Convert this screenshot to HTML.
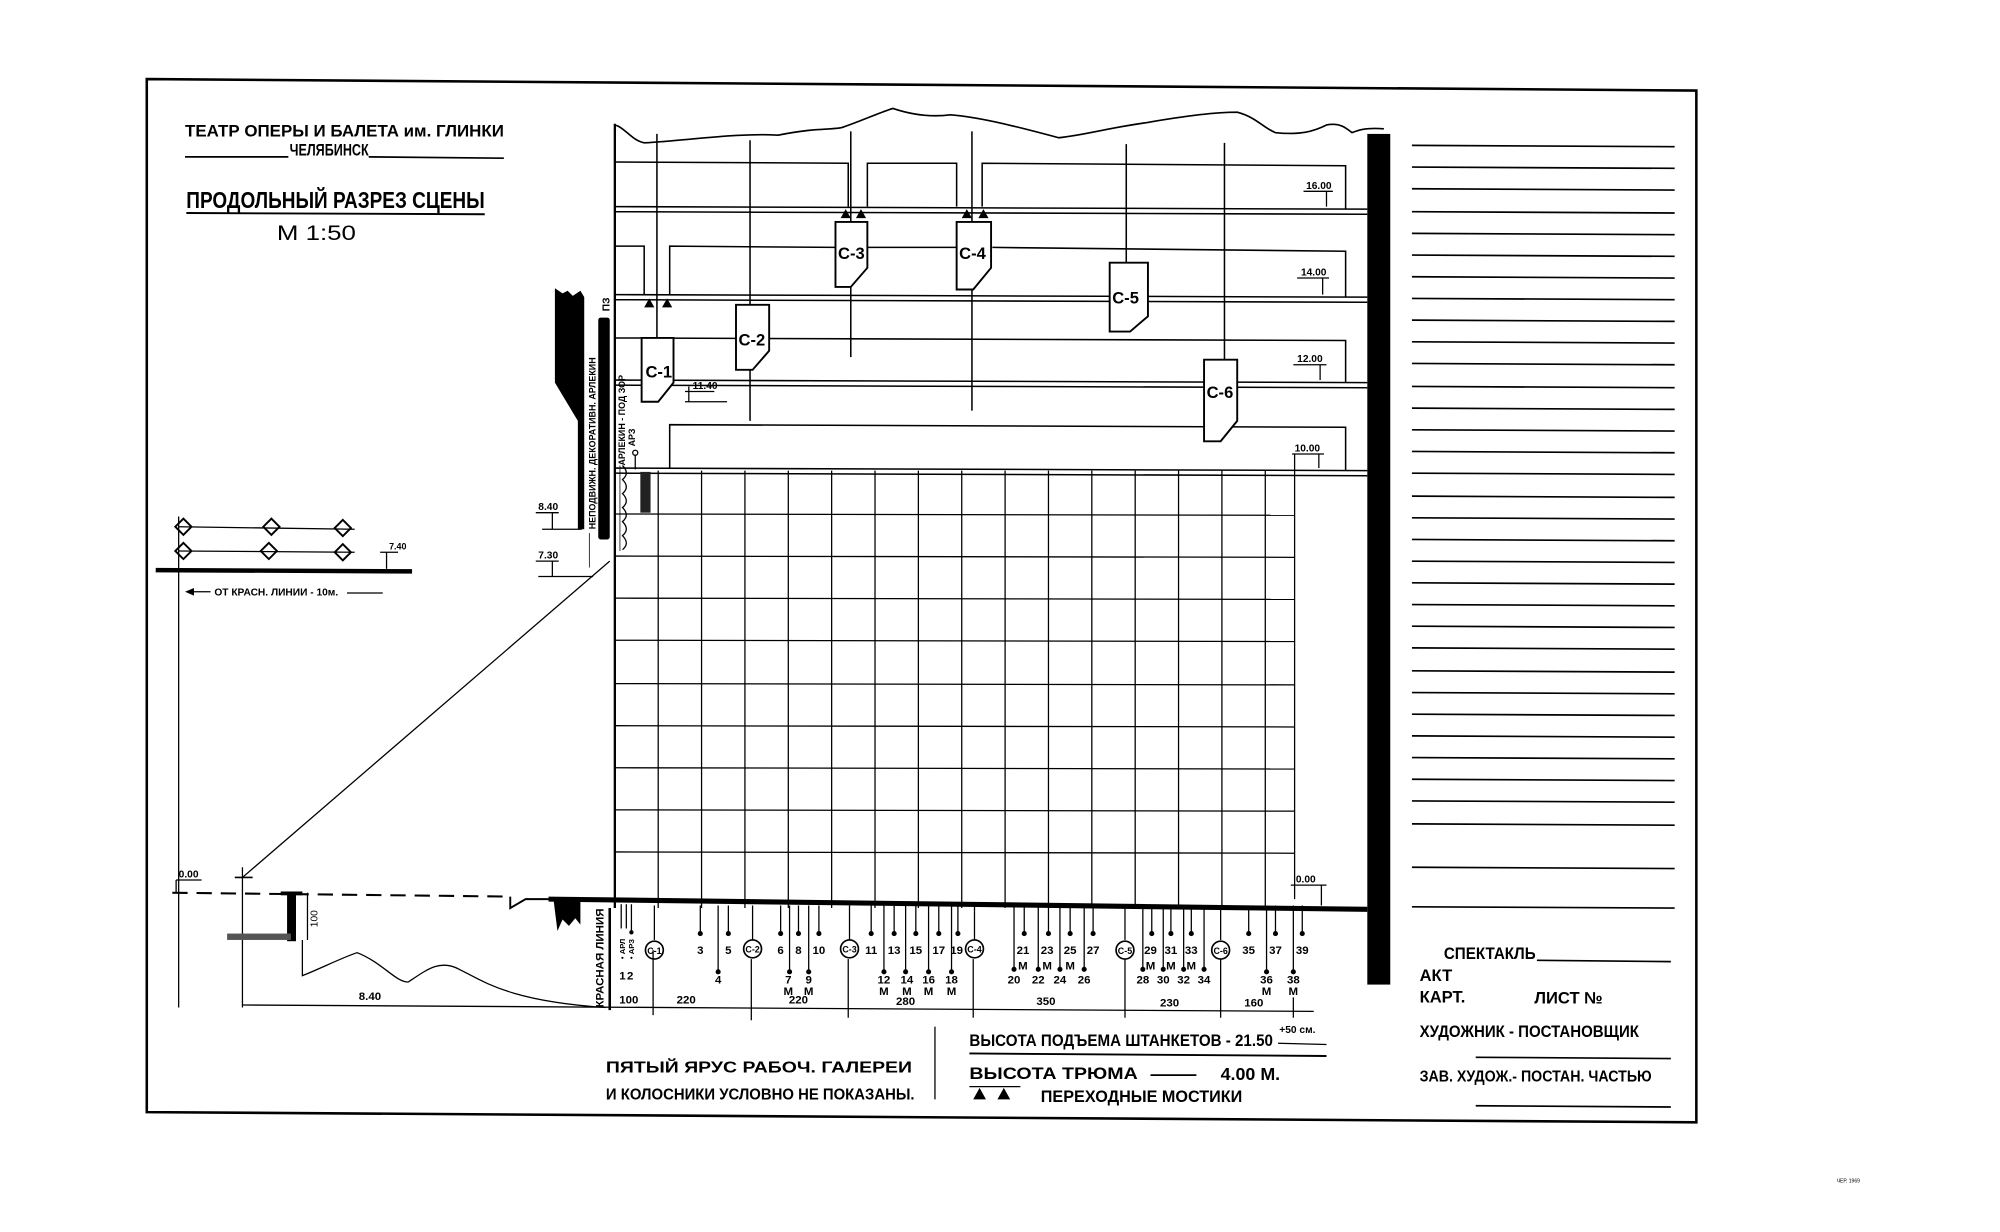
<!DOCTYPE html>
<html><head><meta charset="utf-8"><style>
html,body{margin:0;padding:0;background:#fff;}
svg{display:block;}
text{font-family:"Liberation Sans Narrow","Liberation Sans","DejaVu Sans",sans-serif;font-weight:bold;fill:#000;}
</style></head><body>
<svg width="2000" height="1232" viewBox="0 0 1568 966" xmlns="http://www.w3.org/2000/svg">
<rect width="1568" height="966" fill="#fff"/>
<polygon points="115,62 1330,71 1330,880 115,872" fill="none" stroke="#000" stroke-width="2"/>

<text x="145" y="107" font-size="13" textLength="250" lengthAdjust="spacingAndGlyphs">ТЕАТР ОПЕРЫ И БАЛЕТА им. ГЛИНКИ</text>
<line x1="145" y1="123" x2="226" y2="123" stroke="#000" stroke-width="1.3"/>
<text x="227" y="122" font-size="13" textLength="62" lengthAdjust="spacingAndGlyphs">ЧЕЛЯБИНСК</text>
<line x1="289" y1="123" x2="395" y2="124" stroke="#000" stroke-width="1.3"/>
<text x="146" y="163" font-size="18" textLength="234" lengthAdjust="spacingAndGlyphs">ПРОДОЛЬНЫЙ РАЗРЕЗ СЦЕНЫ</text>
<line x1="146" y1="167" x2="380" y2="168" stroke="#000" stroke-width="1.5"/>
<text x="217" y="188" font-size="17" textLength="62" lengthAdjust="spacingAndGlyphs" style="font-weight:normal">М 1:50</text>

<path d="M482,98 C490,100 495,110 505,112 C540,110 580,104 610,106 C640,100 650,102 660,100 C675,95 690,88 700,85 C715,90 730,92 745,90 C770,92 800,100 830,108 C850,106 870,100 900,96 C940,89 960,88 970,88 C985,92 990,100 1000,104 C1020,106 1030,103 1040,98 C1050,96 1055,100 1060,104 C1065,102 1070,100 1085,101" fill="none" stroke="#000" stroke-width="1.3"/>
<line x1="482" y1="97" x2="482" y2="712" stroke="#000" stroke-width="1.8"/>
<rect x="1072" y="105" width="18" height="667" fill="#000"/>

<g stroke="#000" stroke-width="1.2" fill="none">
<line x1="482" y1="162" x2="1072" y2="164"/><line x1="482" y1="166" x2="1072" y2="168"/>
<line x1="482" y1="231" x2="1072" y2="233"/><line x1="482" y1="235" x2="1072" y2="237"/>
<line x1="482" y1="298" x2="1072" y2="300"/><line x1="482" y1="302" x2="1072" y2="304"/>
<line x1="482" y1="367" x2="1072" y2="369"/><line x1="482" y1="371" x2="1072" y2="373"/>
<polyline points="482,127 665,128 665,162"/>
<polyline points="680,162 680,128 750,128 750,162"/>
<polyline points="770,162 770,128 1055,130 1055,164"/>
<polyline points="482,193 505,193 505,231"/>
<polyline points="525,231 525,193 655,194"/>
<line x1="680" y1="194" x2="750" y2="194"/>
<polyline points="778,194 1055,197 1055,233"/>
<polyline points="482,265 1055,267 1055,300"/>
<polyline points="525,367 525,333 1055,335 1055,369"/>
<line x1="515" y1="105" x2="515" y2="265"/>
<line x1="588" y1="110" x2="588" y2="239"/><line x1="588" y1="289" x2="588" y2="330"/>
<line x1="667" y1="103" x2="667" y2="174"/><line x1="667" y1="224" x2="667" y2="280"/>
<line x1="762" y1="103" x2="762" y2="174"/><line x1="762" y1="226" x2="762" y2="322"/>
<line x1="883" y1="113" x2="883" y2="206"/>
<line x1="960" y1="112" x2="960" y2="282"/>
</g>
<g stroke="#000" stroke-width="1.5" fill="#fff">
<polygon points="503,265 528,265 528,300 516,315 503,315"/>
<polygon points="577,239 603,239 603,275 590,290 577,290"/>
<polygon points="655,174 680,174 680,210 667,225 655,225"/>
<polygon points="750,174 777,174 777,210 763,227 750,227"/>
<polygon points="870,206 900,206 900,248 886,260 870,260"/>
<polygon points="944,282 970,282 970,330 957,346 944,346"/>
</g>
<g font-size="13">
<text x="506" y="296">С-1</text><text x="579" y="271">С-2</text>
<text x="657" y="203">С-3</text><text x="752" y="203">С-4</text>
<text x="872" y="238">С-5</text><text x="946" y="312">С-6</text>
</g>
<g fill="#000">
<polygon points="659,171 663,164 667,171"/><polygon points="671,171 675,164 679,171"/>
<polygon points="754,171 758,164 762,171"/><polygon points="767,171 771,164 775,171"/>
<polygon points="505,241 509,234 513,241"/><polygon points="519,241 523,234 527,241"/>
</g>
<g font-size="8">
<text x="1024" y="148">16.00</text><text x="1020" y="216">14.00</text>
<text x="1017" y="284">12.00</text><text x="1015" y="354">10.00</text>
<text x="543" y="305">11.40</text>
</g>
<g stroke="#000" stroke-width="1" fill="none">
<line x1="1022" y1="150" x2="1045" y2="150"/><line x1="1040" y1="150" x2="1040" y2="162"/>
<line x1="1017" y1="218" x2="1042" y2="218"/><line x1="1037" y1="218" x2="1037" y2="231"/>
<line x1="1014" y1="286" x2="1040" y2="286"/><line x1="1035" y1="286" x2="1035" y2="298"/>
<line x1="1013" y1="356" x2="1038" y2="356"/><line x1="1034" y1="356" x2="1034" y2="367"/>
<line x1="1015" y1="356" x2="1015" y2="705"/>
<line x1="537" y1="315" x2="570" y2="315"/><line x1="540" y1="303" x2="540" y2="315"/><line x1="537" y1="307" x2="560" y2="307"/>
</g>

<g stroke="#000" stroke-width="1" fill="none">
<line x1="482" y1="403" x2="1015" y2="404"/>
<line x1="482" y1="436" x2="1015" y2="437"/>
<line x1="482" y1="469" x2="1015" y2="470"/>
<line x1="482" y1="502" x2="1015" y2="503"/>
<line x1="482" y1="536" x2="1015" y2="537"/>
<line x1="482" y1="569" x2="1015" y2="570"/>
<line x1="482" y1="602" x2="1015" y2="603"/>
<line x1="482" y1="635" x2="1015" y2="636"/>
<line x1="482" y1="668" x2="1015" y2="669"/>
<line x1="516" y1="369" x2="516" y2="712"/><line x1="550" y1="369" x2="550" y2="712"/>
<line x1="584" y1="369" x2="584" y2="712"/><line x1="618" y1="369" x2="618" y2="712"/>
<line x1="652" y1="369" x2="652" y2="712"/><line x1="686" y1="369" x2="686" y2="712"/>
<line x1="720" y1="369" x2="720" y2="712"/><line x1="754" y1="369" x2="754" y2="712"/>
<line x1="788" y1="369" x2="788" y2="712"/><line x1="822" y1="369" x2="822" y2="712"/>
<line x1="856" y1="369" x2="856" y2="712"/><line x1="890" y1="369" x2="890" y2="712"/>
<line x1="924" y1="369" x2="924" y2="712"/><line x1="958" y1="369" x2="958" y2="712"/>
<line x1="992" y1="369" x2="992" y2="712"/>
</g>
<line x1="430" y1="705" x2="1072" y2="713" stroke="#000" stroke-width="4"/>
<polyline points="400,703 400,712 412,705 430,705" fill="none" stroke="#000" stroke-width="1.5"/>
<polygon points="434,706 455,707 455,725 451,720 446,726 441,721 437,730" fill="#000"/>
<text x="1016" y="692" font-size="8">0.00</text>
<line x1="1012" y1="694" x2="1040" y2="694" stroke="#000"/><line x1="1036" y1="694" x2="1036" y2="710" stroke="#000"/>

<g stroke="#000" stroke-width="1" fill="#000">
<line x1="487" y1="709" x2="487" y2="728"/><line x1="491" y1="709" x2="491" y2="728"/><line x1="495" y1="709" x2="495" y2="730"/><circle cx="495" cy="731" r="1.2"/>
<line x1="549" y1="710" x2="549" y2="732"/><circle cx="549" cy="732" r="1.5"/>
<line x1="563" y1="710" x2="563" y2="762"/><circle cx="563" cy="762" r="1.5"/>
<line x1="571" y1="710" x2="571" y2="732"/><circle cx="571" cy="732" r="1.5"/>
<line x1="612" y1="710" x2="612" y2="732"/><circle cx="612" cy="732" r="1.5"/>
<line x1="619" y1="710" x2="619" y2="762"/><circle cx="619" cy="762" r="1.5"/>
<line x1="626" y1="710" x2="626" y2="732"/><circle cx="626" cy="732" r="1.5"/>
<line x1="634" y1="710" x2="634" y2="762"/><circle cx="634" cy="762" r="1.5"/>
<line x1="642" y1="710" x2="642" y2="732"/><circle cx="642" cy="732" r="1.5"/>
<line x1="683" y1="710" x2="683" y2="732"/><circle cx="683" cy="732" r="1.5"/>
<line x1="693" y1="710" x2="693" y2="762"/><circle cx="693" cy="762" r="1.5"/>
<line x1="701" y1="710" x2="701" y2="732"/><circle cx="701" cy="732" r="1.5"/>
<line x1="710" y1="710" x2="710" y2="762"/><circle cx="710" cy="762" r="1.5"/>
<line x1="718" y1="710" x2="718" y2="732"/><circle cx="718" cy="732" r="1.5"/>
<line x1="728" y1="710" x2="728" y2="762"/><circle cx="728" cy="762" r="1.5"/>
<line x1="736" y1="710" x2="736" y2="732"/><circle cx="736" cy="732" r="1.5"/>
<line x1="746" y1="710" x2="746" y2="762"/><circle cx="746" cy="762" r="1.5"/>
<line x1="751" y1="710" x2="751" y2="732"/><circle cx="751" cy="732" r="1.5"/>
<line x1="795" y1="710" x2="795" y2="760"/><circle cx="795" cy="760" r="1.5"/>
<line x1="803" y1="710" x2="803" y2="732"/><circle cx="803" cy="732" r="1.5"/>
<line x1="814" y1="710" x2="814" y2="760"/><circle cx="814" cy="760" r="1.5"/>
<line x1="822" y1="710" x2="822" y2="732"/><circle cx="822" cy="732" r="1.5"/>
<line x1="831" y1="710" x2="831" y2="760"/><circle cx="831" cy="760" r="1.5"/>
<line x1="839" y1="710" x2="839" y2="732"/><circle cx="839" cy="732" r="1.5"/>
<line x1="850" y1="710" x2="850" y2="760"/><circle cx="850" cy="760" r="1.5"/>
<line x1="857" y1="710" x2="857" y2="732"/><circle cx="857" cy="732" r="1.5"/>
<line x1="896" y1="710" x2="896" y2="760"/><circle cx="896" cy="760" r="1.5"/>
<line x1="903" y1="710" x2="903" y2="732"/><circle cx="903" cy="732" r="1.5"/>
<line x1="912" y1="710" x2="912" y2="760"/><circle cx="912" cy="760" r="1.5"/>
<line x1="918" y1="710" x2="918" y2="732"/><circle cx="918" cy="732" r="1.5"/>
<line x1="928" y1="710" x2="928" y2="760"/><circle cx="928" cy="760" r="1.5"/>
<line x1="934" y1="710" x2="934" y2="732"/><circle cx="934" cy="732" r="1.5"/>
<line x1="944" y1="710" x2="944" y2="760"/><circle cx="944" cy="760" r="1.5"/>
<line x1="979" y1="710" x2="979" y2="732"/><circle cx="979" cy="732" r="1.5"/>
<line x1="993" y1="710" x2="993" y2="762"/><circle cx="993" cy="762" r="1.5"/>
<line x1="1000" y1="710" x2="1000" y2="732"/><circle cx="1000" cy="732" r="1.5"/>
<line x1="1014" y1="710" x2="1014" y2="762"/><circle cx="1014" cy="762" r="1.5"/>
<line x1="1021" y1="710" x2="1021" y2="732"/><circle cx="1021" cy="732" r="1.5"/>
<line x1="513" y1="710" x2="513" y2="737"/><line x1="590" y1="710" x2="590" y2="737"/>
<line x1="666" y1="710" x2="666" y2="737"/><line x1="764" y1="710" x2="764" y2="737"/>
<line x1="882" y1="710" x2="882" y2="737"/><line x1="957" y1="710" x2="957" y2="737"/>
</g>
<g stroke="#000" stroke-width="1.3" fill="#fff">
<circle cx="513" cy="745" r="7"/><circle cx="590" cy="744" r="7"/><circle cx="666" cy="744" r="7"/>
<circle cx="764" cy="744" r="7"/><circle cx="882" cy="745" r="7"/><circle cx="957" cy="745" r="7"/>
</g>
<g font-size="7" text-anchor="middle">
<text x="513" y="748">С-1</text><text x="590" y="747">С-2</text><text x="666" y="747">С-3</text>
<text x="764" y="747">С-4</text><text x="882" y="748">С-5</text><text x="957" y="748">С-6</text>
</g>
<g font-size="9" text-anchor="middle" style="font-weight:normal">
<text x="549" y="748">3</text><text x="571" y="748">5</text><text x="612" y="748">6</text><text x="626" y="748">8</text><text x="642" y="748">10</text>
<text x="683" y="748">11</text><text x="701" y="748">13</text><text x="718" y="748">15</text><text x="736" y="748">17</text><text x="750" y="748">19</text>
<text x="802" y="748">21</text><text x="821" y="748">23</text><text x="839" y="748">25</text><text x="857" y="748">27</text>
<text x="902" y="748">29</text><text x="918" y="748">31</text><text x="934" y="748">33</text>
<text x="979" y="748">35</text><text x="1000" y="748">37</text><text x="1021" y="748">39</text>
<text x="563" y="771">4</text><text x="618" y="771">7</text><text x="634" y="771">9</text>
<text x="693" y="771">12</text><text x="711" y="771">14</text><text x="728" y="771">16</text><text x="746" y="771">18</text>
<text x="795" y="771">20</text><text x="814" y="771">22</text><text x="831" y="771">24</text><text x="850" y="771">26</text>
<text x="896" y="771">28</text><text x="912" y="771">30</text><text x="928" y="771">32</text><text x="944" y="771">34</text>
<text x="993" y="771">36</text><text x="1014" y="771">38</text>
<text x="618" y="780">М</text><text x="634" y="780">М</text>
<text x="693" y="780">М</text><text x="711" y="780">М</text><text x="728" y="780">М</text><text x="746" y="780">М</text>
<text x="993" y="780">М</text><text x="1014" y="780">М</text>
<text x="802" y="760">М</text><text x="821" y="760">М</text><text x="839" y="760">М</text>
<text x="902" y="760">М</text><text x="918" y="760">М</text><text x="934" y="760">М</text>
<text x="488" y="768">1</text><text x="494" y="768">2</text>
</g>
<g font-size="6"><text transform="translate(490,752) rotate(-90)">• АРЛ</text><text transform="translate(497,752) rotate(-90)">• АРЗ</text></g>
<text transform="translate(473,790) rotate(-90)" font-size="9">КРАСНАЯ ЛИНИЯ</text>
<line x1="478" y1="712" x2="478" y2="792" stroke="#000" stroke-width="2"/>
<g stroke="#000" stroke-width="1" fill="none">
<line x1="190" y1="788" x2="1030" y2="793"/>
<line x1="512" y1="745" x2="512" y2="796"/><line x1="589" y1="752" x2="589" y2="800"/>
<line x1="665" y1="752" x2="665" y2="798"/><line x1="763" y1="752" x2="763" y2="798"/>
<line x1="882" y1="752" x2="882" y2="798"/><line x1="957" y1="752" x2="957" y2="798"/>
<line x1="1014" y1="782" x2="1014" y2="798"/>
</g>
<g font-size="9" text-anchor="middle" style="font-weight:normal">
<text x="493" y="787">100</text><text x="538" y="787">220</text><text x="626" y="787">220</text>
<text x="710" y="788">280</text><text x="820" y="788">350</text><text x="917" y="789">230</text><text x="983" y="789">160</text>
<text x="290" y="784">8.40</text>
</g>

<line x1="135" y1="700" x2="400" y2="703" stroke="#000" stroke-width="1.6" stroke-dasharray="12,7"/>
<text x="140" y="688" font-size="8">0.00</text>
<line x1="138" y1="690" x2="158" y2="690" stroke="#000"/><line x1="138" y1="690" x2="138" y2="700" stroke="#000"/>
<line x1="190" y1="680" x2="190" y2="790" stroke="#000"/><line x1="184" y1="688" x2="198" y2="688" stroke="#000" stroke-width="1.3"/>
<line x1="190" y1="688" x2="478" y2="440" stroke="#000" stroke-width="1"/>
<rect x="225" y="700" width="7" height="38" fill="#000"/><rect x="220" y="699" width="17" height="3" fill="#000"/>
<line x1="241" y1="700" x2="241" y2="737" stroke="#000"/>
<text transform="translate(249,727) rotate(-90)" font-size="8" style="font-weight:normal">100</text>
<rect x="178" y="732" width="50" height="5" fill="#555"/>
<path d="M237,737 L237,765 C250,760 270,750 280,747 C300,755 310,770 320,770 C335,760 345,752 360,760 C380,770 400,785 475,790" fill="none" stroke="#000"/>

<!-- proscenium -->
<polygon points="435,226 441,230 445,228 449,232 455,228 458,233 458,415 453,415 453,330 435,300" fill="#000"/>
<rect x="469" y="249" width="9" height="174" fill="#000" rx="2"/>
<text transform="translate(467,415) rotate(-90)" font-size="7">НЕПОДВИЖН. ДЕКОРАТИВН. АРЛЕКИН</text>
<text transform="translate(478,244) rotate(-90)" font-size="8">ПЗ</text>
<text transform="translate(490,365) rotate(-90)" font-size="7">АРЛЕКИН - ПОД ЗОР</text>
<text transform="translate(498,350) rotate(-90)" font-size="7">АРЗ</text>
<circle cx="498" cy="355" r="2" fill="none" stroke="#000"/>
<line x1="498" y1="357" x2="498" y2="368" stroke="#000"/>
<rect x="502" y="370" width="8" height="32" fill="#222"/>
<path d="M488,365 q6,6 0,11 q6,6 0,11 q6,6 0,11 q6,6 0,11 q6,6 0,11 q6,6 0,11" fill="none" stroke="#000"/>
<line x1="486" y1="365" x2="486" y2="432" stroke="#000" stroke-width="0.6"/>
<line x1="462" y1="418" x2="462" y2="445" stroke="#000" stroke-width="0.6"/>
<g font-size="8"><text x="422" y="400">8.40</text><text x="422" y="438">7.30</text></g>
<g stroke="#000" stroke-width="1"><line x1="420" y1="402" x2="438" y2="402"/><line x1="433" y1="402" x2="433" y2="415"/><line x1="425" y1="415" x2="456" y2="415"/>
<line x1="420" y1="440" x2="438" y2="440"/><line x1="433" y1="440" x2="433" y2="452"/><line x1="422" y1="452" x2="465" y2="452"/></g>

<g stroke="#000" stroke-width="1" fill="none">
<line x1="140" y1="413" x2="278" y2="415"/><line x1="140" y1="432" x2="278" y2="433"/>
<line x1="140" y1="405" x2="140" y2="790"/>
<g stroke-width="1.5">
<rect x="139" y="408" width="9" height="9" transform="rotate(45 143 413)"/>
<rect x="208" y="408" width="9" height="9" transform="rotate(45 212 413)"/>
<rect x="264" y="409" width="9" height="9" transform="rotate(45 268 414)"/>
<rect x="139" y="427" width="9" height="9" transform="rotate(45 143 432)"/>
<rect x="206" y="427" width="9" height="9" transform="rotate(45 210 432)"/>
<rect x="264" y="428" width="9" height="9" transform="rotate(45 268 433)"/>
</g>
<line x1="298" y1="433" x2="312" y2="433"/><line x1="303" y1="433" x2="303" y2="446"/>
<line x1="148" y1="464" x2="165" y2="464"/><line x1="272" y1="465" x2="300" y2="465"/>
</g>
<polygon points="145,464 152,461 152,467" fill="#000"/>
<line x1="122" y1="447" x2="323" y2="448" stroke="#000" stroke-width="3.5"/>
<text x="305" y="431" font-size="7">7.40</text>
<text x="168" y="467" font-size="8">ОТ КРАСН. ЛИНИИ - 10м.</text>

<text x="475" y="841" font-size="12" textLength="240" lengthAdjust="spacingAndGlyphs">ПЯТЫЙ ЯРУС РАБОЧ. ГАЛЕРЕИ</text>
<text x="475" y="862" font-size="12" textLength="242" lengthAdjust="spacingAndGlyphs">И КОЛОСНИКИ УСЛОВНО НЕ ПОКАЗАНЫ.</text>
<line x1="733" y1="805" x2="733" y2="862" stroke="#000"/>
<text x="760" y="820" font-size="13" textLength="238" lengthAdjust="spacingAndGlyphs">ВЫСОТА ПОДЪЕМА ШТАНКЕТОВ - 21.50</text>
<text x="1003" y="810" font-size="8">+50 см.</text>
<line x1="1002" y1="818" x2="1040" y2="819" stroke="#000"/>
<line x1="760" y1="826" x2="1040" y2="828" stroke="#000" stroke-width="1.5"/>
<text x="760" y="846" font-size="13" textLength="132" lengthAdjust="spacingAndGlyphs">ВЫСОТА ТРЮМА</text>
<line x1="902" y1="843" x2="938" y2="843" stroke="#000" stroke-width="1.3"/>
<text x="957" y="847" font-size="14">4.00 М.</text>
<line x1="760" y1="852" x2="800" y2="852" stroke="#000"/>
<polygon points="763,862 768,853 773,862" fill="#000"/><polygon points="782,862 787,853 792,862" fill="#000"/>
<text x="816" y="864" font-size="13" textLength="158" lengthAdjust="spacingAndGlyphs">ПЕРЕХОДНЫЕ МОСТИКИ</text>

<g stroke="#000" stroke-width="1.3">
<line x1="1107" y1="114" x2="1313" y2="115"/><line x1="1107" y1="131" x2="1313" y2="132"/>
<line x1="1107" y1="148" x2="1313" y2="149"/><line x1="1107" y1="166" x2="1313" y2="167"/>
<line x1="1107" y1="183" x2="1313" y2="184"/><line x1="1107" y1="200" x2="1313" y2="201"/>
<line x1="1107" y1="217" x2="1313" y2="218"/><line x1="1107" y1="234" x2="1313" y2="235"/>
<line x1="1107" y1="251" x2="1313" y2="252"/><line x1="1107" y1="268" x2="1313" y2="269"/>
<line x1="1107" y1="285" x2="1313" y2="286"/><line x1="1107" y1="303" x2="1313" y2="304"/>
<line x1="1107" y1="320" x2="1313" y2="321"/><line x1="1107" y1="337" x2="1313" y2="338"/>
<line x1="1107" y1="354" x2="1313" y2="355"/><line x1="1107" y1="371" x2="1313" y2="372"/>
<line x1="1107" y1="389" x2="1313" y2="390"/><line x1="1107" y1="406" x2="1313" y2="407"/>
<line x1="1107" y1="423" x2="1313" y2="424"/><line x1="1107" y1="440" x2="1313" y2="441"/>
<line x1="1107" y1="457" x2="1313" y2="458"/><line x1="1107" y1="474" x2="1313" y2="475"/>
<line x1="1107" y1="491" x2="1313" y2="492"/><line x1="1107" y1="508" x2="1313" y2="509"/>
<line x1="1107" y1="526" x2="1313" y2="527"/><line x1="1107" y1="543" x2="1313" y2="544"/>
<line x1="1107" y1="560" x2="1313" y2="561"/><line x1="1107" y1="577" x2="1313" y2="578"/>
<line x1="1107" y1="594" x2="1313" y2="595"/><line x1="1107" y1="611" x2="1313" y2="612"/>
<line x1="1107" y1="628" x2="1313" y2="629"/><line x1="1107" y1="646" x2="1313" y2="647"/>
<line x1="1107" y1="680" x2="1313" y2="681"/><line x1="1107" y1="711" x2="1313" y2="712"/>
<line x1="1205" y1="753" x2="1310" y2="754"/>
<line x1="1157" y1="829" x2="1310" y2="830"/>
<line x1="1157" y1="867" x2="1310" y2="868"/>
</g>
<text x="1132" y="752" font-size="13" textLength="72" lengthAdjust="spacingAndGlyphs">СПЕКТАКЛЬ</text>
<text x="1113" y="769" font-size="13">АКТ</text>
<text x="1113" y="786" font-size="13">КАРТ.</text>
<text x="1203" y="787" font-size="13">ЛИСТ №</text>
<text x="1113" y="813" font-size="13" textLength="172" lengthAdjust="spacingAndGlyphs">ХУДОЖНИК - ПОСТАНОВЩИК</text>
<text x="1113" y="848" font-size="12" textLength="182" lengthAdjust="spacingAndGlyphs">ЗАВ. ХУДОЖ.- ПОСТАН. ЧАСТЬЮ</text>
<text x="1440" y="927" font-size="4" style="font-weight:normal">ЧЕР. 1969</text>
</svg>
</body></html>
